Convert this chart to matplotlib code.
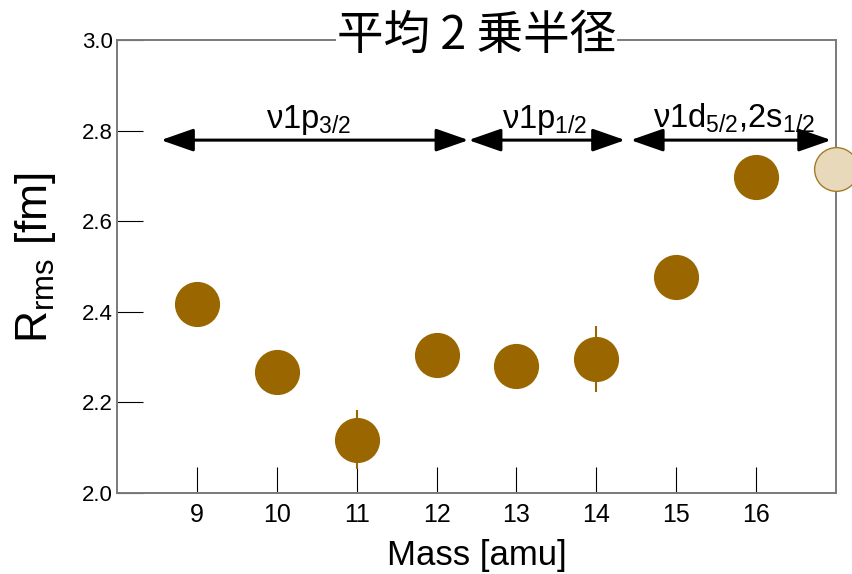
import matplotlib
matplotlib.use('Agg')
import matplotlib.pyplot as plt

plt.rcParams['font.family'] = ['Liberation Sans', 'DejaVu Sans']
plt.rcParams['mathtext.fontset'] = 'custom'
plt.rcParams['mathtext.rm'] = 'Liberation Sans'
plt.rcParams['mathtext.it'] = 'Liberation Sans:italic'

# mass numbers and rms radii
mass = [9, 10, 11, 12, 13, 14, 15, 16]
rrms = [2.417, 2.267, 2.118, 2.304, 2.280, 2.296, 2.477, 2.697]
rerr = [0.0, 0.0, 0.065, 0.0, 0.0, 0.072, 0.0, 0.0]

# open point at the edge
mass_open = [17]
rrms_open = [2.715]

# shell arrows: (start, end, label)
shell_from = [8.55, 12.40, 14.43]
shell_to = [12.40, 14.36, 16.94]
shell_lab = ['ν1p$_{3/2}$', 'ν1p$_{1/2}$', 'ν1d$_{5/2}$,2s$_{1/2}$']
shell_lab_x = [10.40, 13.35, 15.72]
arrow_y = 2.779
lab_y = 2.806

brown = '#996600'

fig = plt.figure(figsize=(8.52, 5.74), dpi=100)
ax = fig.add_axes([117/852, 1 - 493/574, (836 - 117)/852, (493 - 40)/574])

ax.errorbar(mass, rrms, yerr=rerr, fmt='none', ecolor=brown, elinewidth=1.5, capsize=0, zorder=2)
ax.plot(mass, rrms, 'o', color=brown, markersize=32.5, markeredgewidth=0, zorder=3)
ax.plot(mass_open, rrms_open, 'o', color='#E8D9BB', markeredgecolor='#A57A2A',
        markersize=31.5, markeredgewidth=1.0, zorder=3, clip_on=False)

for x0, x1, lab, lx in zip(shell_from, shell_to, shell_lab, shell_lab_x):
    ax.annotate('', xy=(x1, arrow_y), xytext=(x0, arrow_y),
                arrowprops=dict(arrowstyle='<|-|>,head_length=2.0,head_width=0.7',
                                mutation_scale=10, lw=2.2, color='black',
                                shrinkA=0, shrinkB=0))
    ax.text(lx, lab_y, lab, ha='center', va='baseline', fontsize=23.5)

ax.set_xlim(8, 17)
ax.set_ylim(2.0, 3.0)
ax.set_xticks(mass)
ax.set_yticks([2.0, 2.2, 2.4, 2.6, 2.8, 3.0])
ax.set_yticklabels(['2.0', '2.2', '2.4', '2.6', '2.8', '3.0'])
ax.tick_params(axis='x', direction='in', length=19, width=0.8, labelsize=18, pad=7)
ax.tick_params(axis='y', direction='in', length=19, width=0.8, labelsize=16, pad=3)

for s in ax.spines.values():
    s.set_color('#7a7a7a')
    s.set_linewidth(1.4)

ax.set_xlabel('Mass [amu]', fontsize=25, labelpad=9)
fig.text(36/852, 1 - 258/574, 'R$_{\\rm rms}$ [fm]', rotation=90, fontsize=32,
         ha='center', va='center')

ax.text(0.5, 1 + 4/453, '平均 2 乗半径', transform=ax.transAxes, ha='center', va='center',
        fontsize=33.5, family=['Noto Sans CJK JP', 'DejaVu Sans'],
        bbox=dict(facecolor='white', edgecolor='none', pad=1))

fig.savefig('out.png', dpi=100)
